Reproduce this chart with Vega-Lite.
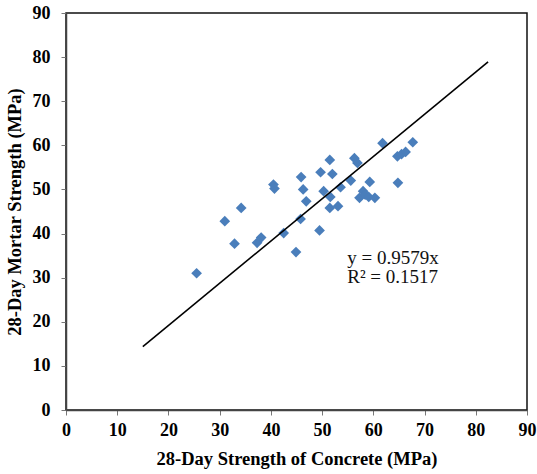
{
  "$schema": "https://vega.github.io/schema/vega-lite/v6.json",
  "width": 461,
  "height": 397,
  "autosize": "none",
  "padding": {"left": 66, "top": 13, "right": 10, "bottom": 64},
  "background": "white",
  "config": {
    "view": {"stroke": "#111", "strokeWidth": 1.5},
    "font": "Liberation Serif"
  },
  "datasets": {
    "points": [
      {"x": 25.5, "y": 31}, {"x": 31, "y": 42.8}, {"x": 32.9, "y": 37.7}, {"x": 34.2, "y": 45.8},
      {"x": 37.3, "y": 37.9}, {"x": 38.1, "y": 39.1}, {"x": 40.5, "y": 51.1}, {"x": 40.7, "y": 50.2},
      {"x": 42.5, "y": 40.1}, {"x": 44.9, "y": 35.8}, {"x": 45.8, "y": 43.3}, {"x": 45.9, "y": 52.8},
      {"x": 46.3, "y": 50}, {"x": 46.9, "y": 47.3}, {"x": 49.5, "y": 40.7}, {"x": 49.7, "y": 53.9},
      {"x": 50.3, "y": 49.6}, {"x": 51.5, "y": 56.7}, {"x": 51.6, "y": 48.3}, {"x": 51.5, "y": 45.8},
      {"x": 52, "y": 53.5}, {"x": 53.1, "y": 46.2}, {"x": 53.6, "y": 50.5}, {"x": 55.6, "y": 52},
      {"x": 56.3, "y": 57.1}, {"x": 56.9, "y": 56}, {"x": 57.3, "y": 48.1}, {"x": 58, "y": 49.6},
      {"x": 58.4, "y": 48.8}, {"x": 59.3, "y": 51.7}, {"x": 59.1, "y": 48.3}, {"x": 60.3, "y": 48.1},
      {"x": 61.8, "y": 60.5}, {"x": 64.7, "y": 57.5}, {"x": 64.8, "y": 51.5}, {"x": 65.5, "y": 58},
      {"x": 66.3, "y": 58.5}, {"x": 67.7, "y": 60.7}
    ],
    "trend": [
      {"x": 15, "y": 14.37},
      {"x": 82.4, "y": 78.93}
    ],
    "labels": [
      {"x": 54.9, "y": 33.2, "t": "y = 0.9579x"},
      {"x": 54.9, "y": 28.8, "t": "R² = 0.1517"}
    ]
  },
  "layer": [
    {
      "data": {"name": "points"},
      "mark": {"type": "point", "shape": "diamond", "filled": true, "color": "#4A7EBB", "opacity": 1, "size": 115},
      "encoding": {
        "x": {
          "field": "x", "type": "quantitative",
          "scale": {"domain": [0, 90], "nice": false, "zero": false},
          "axis": {
            "title": "28-Day Strength of Concrete (MPa)",
            "values": [0,5,10,15,20,25,30,35,40,45,50,55,60,65,70,75,80,85,90],
            "labelExpr": "datum.value % 10 === 0 ? datum.label : ''",
            "grid": false,
            "domainColor": "#444", "domainWidth": 1.5,
            "tickColor": "#777", "tickWidth": 1,
            "tickSize": {"condition": {"test": "datum.value % 10 !== 0", "value": -4}, "value": 5},
            "labelFont": "Liberation Serif", "labelFontSize": 18, "labelFontWeight": "bold", "labelColor": "#000",
            "labelPadding": 6, "labelFlush": false, "labelOverlap": false,
            "titleFont": "Liberation Serif", "titleFontSize": 18.5, "titleFontWeight": "bold", "titleColor": "#000",
            "titlePadding": 10
          }
        },
        "y": {
          "field": "y", "type": "quantitative",
          "scale": {"domain": [0, 90], "nice": false, "zero": false},
          "axis": {
            "title": "28-Day Mortar Strength (MPa)",
            "values": [0,5,10,15,20,25,30,35,40,45,50,55,60,65,70,75,80,85,90],
            "labelExpr": "datum.value % 10 === 0 ? datum.label : ''",
            "grid": false,
            "domainColor": "#444", "domainWidth": 1.5,
            "tickColor": "#777", "tickWidth": 1,
            "tickSize": {"condition": {"test": "datum.value % 10 !== 0", "value": -4}, "value": 5},
            "labelFont": "Liberation Serif", "labelFontSize": 18, "labelFontWeight": "bold", "labelColor": "#000",
            "labelPadding": 11, "labelOverlap": false,
            "titleFont": "Liberation Serif", "titleFontSize": 18.5, "titleFontWeight": "bold", "titleColor": "#000",
            "titlePadding": 8
          }
        }
      }
    },
    {
      "data": {"name": "trend"},
      "mark": {"type": "line", "color": "#000", "strokeWidth": 1.6},
      "encoding": {
        "x": {"field": "x", "type": "quantitative"},
        "y": {"field": "y", "type": "quantitative"}
      }
    },
    {
      "data": {"name": "labels"},
      "mark": {"type": "text", "align": "left", "baseline": "alphabetic", "font": "Liberation Serif", "fontSize": 19, "color": "#111"},
      "encoding": {
        "x": {"field": "x", "type": "quantitative"},
        "y": {"field": "y", "type": "quantitative"},
        "text": {"field": "t"}
      }
    }
  ]
}
